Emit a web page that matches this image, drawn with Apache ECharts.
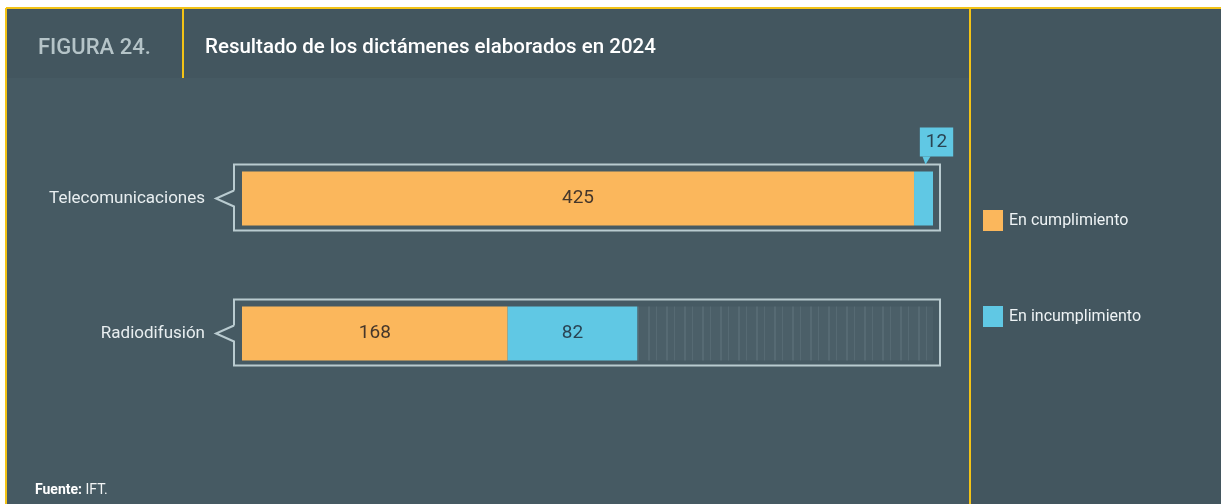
<!DOCTYPE html>
<html>
<head>
<meta charset="UTF-8">
<title>Figura 24</title>
<script src="https://cdn.jsdelivr.net/npm/echarts@6/dist/echarts.min.js"></script>
<style>
  html, body { margin: 0; padding: 0; background: #fff; }
  #chart { width: 1221px; height: 504px; }
</style>
</head>
<body>
<div id="chart"></div>
<script>
// datos
var categorias = ['Telecomunicaciones', 'Radiodifusión'];
var enCumplimiento = [425, 168];
var enIncumplimiento = [12, 82];
var nombresSerie = ['En cumplimiento', 'En incumplimiento'];

var totales = categorias.map(function (c, i) { return enCumplimiento[i] + enIncumplimiento[i]; });
var maximo = Math.max.apply(null, totales);
var resto = totales.map(function (t) { return maximo - t; });

var naranja = '#fbb75c';
var azul = '#60c8e4';
var fondo = '#465a63';
var amarillo = '#f3c316';

var chart = echarts.init(document.getElementById('chart'));

// datos para el marco de cada barra
var marco = categorias.map(function (c, i) {
  return [0, i, maximo, enCumplimiento[i], totales[i]];
});

function dibujaMarco(params, api) {
  var i = api.value(1);
  var p0 = api.coord([0, i]);
  var p1 = api.coord([api.value(2), i]);
  var band = api.size([0, 1])[1];
  var h = band * 0.4;
  var x0 = p0[0] - 8, x1 = p1[0] + 7;
  var y0 = p0[1] - h / 2 - 7, y1 = p0[1] + h / 2 + 5;
  var ym = p0[1];
  var hijos = [{
    type: 'polyline',
    shape: { points: [[x0, ym - 8], [x0, y0], [x1, y0], [x1, y1], [x0, y1], [x0, ym + 8], [x0 - 18, ym], [x0, ym - 8]] },
    style: { stroke: '#b9cbd0', lineWidth: 2, fill: null }
  }];
  // flecha de la etiqueta flotante
  var xa = api.coord([api.value(3), i])[0];
  var xb = api.coord([api.value(4), i])[0];
  if (xb - xa < 40) {
    var xc = (xa + xb) / 2 + 2;
    var yt = p0[1] - h / 2;
    hijos.push({
      type: 'polygon',
      shape: { points: [[xc - 3, yt - 15], [xc + 5, yt - 15], [xc, yt - 7]] },
      style: { fill: azul }
    });
  }
  return { type: 'group', children: hijos };
}

var option = {
  backgroundColor: '#ffffff',
  textStyle: { fontFamily: 'Roboto, "Noto Sans", sans-serif' },
  graphic: [
    { type: 'rect', z: -10, shape: { x: 6, y: 8, width: 1215, height: 496 }, style: { fill: fondo } },
    { type: 'rect', z: -9, shape: { x: 6, y: 8, width: 963, height: 70 }, style: { fill: '#43565f' } },
    { type: 'rect', z: -9, shape: { x: 970, y: 8, width: 251, height: 496 }, style: { fill: '#43565f' } },
    { type: 'line', z: -5, shape: { x1: 6, y1: 8, x2: 1221, y2: 8 }, style: { stroke: amarillo, lineWidth: 2 } },
    { type: 'line', z: -5, shape: { x1: 6, y1: 8, x2: 6, y2: 504 }, style: { stroke: amarillo, lineWidth: 2 } },
    { type: 'line', z: -5, shape: { x1: 183, y1: 8, x2: 183, y2: 78 }, style: { stroke: amarillo, lineWidth: 2 } },
    { type: 'line', z: -5, shape: { x1: 970, y1: 8, x2: 970, y2: 504 }, style: { stroke: amarillo, lineWidth: 2 } }
  ],
  title: [
    { text: 'FIGURA 24.', left: 33, top: 32, textStyle: { color: '#b5c4c8', fontSize: 22, fontWeight: 500 } },
    { text: 'Resultado de los dictámenes elaborados en 2024', left: 200, top: 32, textStyle: { color: '#ffffff', fontSize: 20.5, fontWeight: 500 } },
    {
      text: '{b|Fuente:} IFT.', left: 30, top: 478,
      textStyle: { color: '#f2f4f5', fontSize: 14, fontWeight: 'normal', rich: { b: { fontWeight: 'bold', fontSize: 14, color: '#ffffff' } } }
    }
  ],
  legend: {
    data: nombresSerie,
    orient: 'vertical',
    left: 978,
    top: 205,
    itemWidth: 20,
    itemHeight: 21,
    itemGap: 75,
    icon: 'rect',
    textStyle: { color: '#eef3f5', fontSize: 16, padding: [0, 0, 0, 1] }
  },
  grid: { left: 242, right: 288, top: 131, height: 270 },
  xAxis: {
    type: 'value', min: 0, max: maximo, show: false
  },
  yAxis: {
    type: 'category', data: categorias, inverse: true,
    axisLine: { show: false }, axisTick: { show: false },
    axisLabel: { color: '#e8eef0', fontSize: 17, margin: 37 }
  },
  series: [
    {
      type: 'custom', name: 'marco', silent: true, z: 1,
      renderItem: dibujaMarco,
      encode: { x: 0, y: 1 },
      data: marco
    },
    {
      name: nombresSerie[0], type: 'bar', stack: 'total', barWidth: '40%', z: 3,
      itemStyle: { color: naranja },
      label: { show: true, position: 'inside', color: '#45372b', fontSize: 19 },
      data: enCumplimiento
    },
    {
      name: nombresSerie[1], type: 'bar', stack: 'total', barWidth: '40%', z: 3,
      itemStyle: { color: azul },
      label: { show: true, position: 'inside', color: '#2a4453', fontSize: 19 },
      data: enIncumplimiento.map(function (v) {
        if (v / maximo < 0.06) {
          return {
            value: v,
            label: {
              position: 'top', distance: 15, offset: [13, 0],
              backgroundColor: azul, padding: [5, 6, 4, 6], lineHeight: 20
            }
          };
        }
        return v;
      })
    },
    {
      name: 'resto', type: 'bar', stack: 'total', barWidth: '40%', silent: true, z: 2,
      itemStyle: {
        color: '#4b5f68',
        decal: {
          symbol: 'rect', symbolSize: 1, color: 'rgba(120,140,148,0.25)',
          dashArrayX: [[2, 6, 1, 9]], dashArrayY: [4, 0], rotation: 0
        }
      },
      data: resto
    }
  ]
};

chart.setOption(option);
</script>
</body>
</html>
